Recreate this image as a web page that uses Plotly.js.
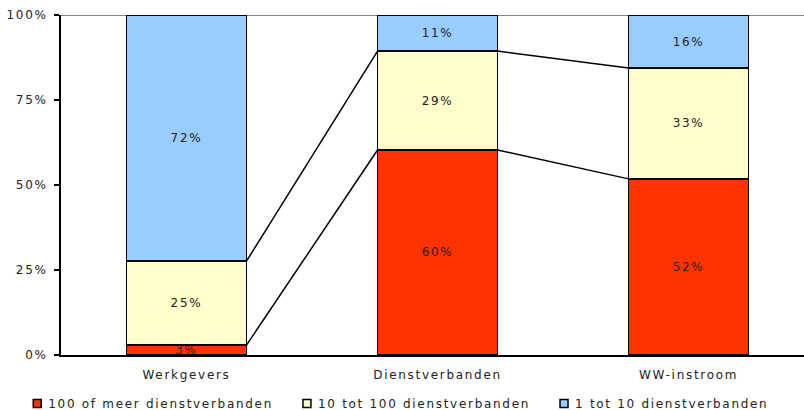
<!DOCTYPE html>
<html><head><meta charset="utf-8">
<script src="https://cdn.plot.ly/plotly-3.0.1.min.js"></script>
<style>body{margin:0;background:#fff}#c{width:804px;height:410px}
svg text{letter-spacing:1.7px}
.legend .legendpoints{transform:translateX(9px)}</style>
</head><body><div id="c"></div>
<script>
const categories = ['Werkgevers', 'Dienstverbanden', 'WW-instroom'];
const seriesNames = ['100 of meer dienstverbanden', '10 tot 100 dienstverbanden', '1 tot 10 dienstverbanden'];
const groot = [2.9, 60.3, 51.8];
const midden = [24.7, 29.1, 32.6];
const klein = [72.4, 10.6, 15.6];
const colors = ['#FF3300', '#FFFFCC', '#99CCFF'];
const yTicks = [0, 25, 50, 75, 100];
const yTickText = ['0%', '25%', '50%', '75%', '100%'];

const series = [groot, midden, klein];
const xs = categories.map((c, i) => i);
const barWidth = 0.478;
const fam = 'DejaVu Sans, Verdana, sans-serif';
const font = {family: fam, size: 12, color: '#222'};

const traces = series.map((vals, k) => ({
  type: 'bar', x: xs, y: vals, name: seriesNames[k],
  width: barWidth, showlegend: false,
  marker: {color: colors[k], line: {color: '#000', width: 1.5}},
  text: vals.map(v => Math.round(v) + '%'),
  textposition: 'inside', insidetextanchor: 'middle',
  textfont: {family: fam, size: 12, color: '#222'},
  constraintext: 'none', cliponaxis: true,
  hoverinfo: 'skip'
}));

// connecting series lines between bars (at cumulative heights)
const cum1 = groot.map(v => v);
const cum2 = groot.map((v, i) => v + midden[i]);
[cum1, cum2].forEach(cum => {
  for (let i = 0; i < xs.length - 1; i++) {
    traces.push({
      type: 'scatter', mode: 'lines',
      x: [xs[i] + barWidth / 2, xs[i + 1] - barWidth / 2],
      y: [cum[i], cum[i + 1]],
      line: {color: '#000', width: 1.5},
      showlegend: false, hoverinfo: 'skip'
    });
  }
});

// legend entries (small squares)
seriesNames.forEach((n, k) => {
  traces.push({
    type: 'scatter', mode: 'markers', x: [null], y: [null], name: n,
    marker: {symbol: 'square', size: 8, color: colors[k], line: {color: '#000', width: 1.5}},
    showlegend: true, hoverinfo: 'skip'
  });
});

const layout = {
  width: 804, height: 410,
  margin: {l: 61, r: 0, t: 15, b: 55, autoexpand: false},
  barmode: 'stack',
  paper_bgcolor: '#fff', plot_bgcolor: '#fff',
  font: font,
  uniformtext: {mode: 'show', minsize: 12},
  xaxis: {
    range: [-0.5, 2.46], tickvals: xs, ticktext: categories,
    showgrid: false, zeroline: false, showline: true, linecolor: '#000', linewidth: 2,
    ticks: '', ticklabelstandoff: 8, tickfont: font, fixedrange: true
  },
  yaxis: {
    range: [0, 100], tickvals: yTicks, ticktext: yTickText,
    showgrid: false, zeroline: false, showline: true, linecolor: '#000', linewidth: 2,
    ticks: 'outside', ticklen: 5, tickcolor: '#000', tickwidth: 2, tickfont: font,
    ticklabelstandoff: 4, fixedrange: true
  },
  shapes: [{type: 'line', xref: 'paper', yref: 'y', x0: 0, x1: 1, y0: 100, y1: 100,
            line: {color: '#888', width: 2}, layer: 'below'}],
  legend: {
    orientation: 'h', x: -0.071, xanchor: 'left', y: -0.1, yanchor: 'top',
    font: {family: fam, size: 12, color: '#222'}, traceorder: 'normal',
    itemwidth: 30, itemclick: false, itemdoubleclick: false, bgcolor: 'rgba(0,0,0,0)'
  },
  showlegend: true
};

Plotly.newPlot('c', traces, layout, {displayModeBar: false, staticPlot: true});
</script>
</body></html>
